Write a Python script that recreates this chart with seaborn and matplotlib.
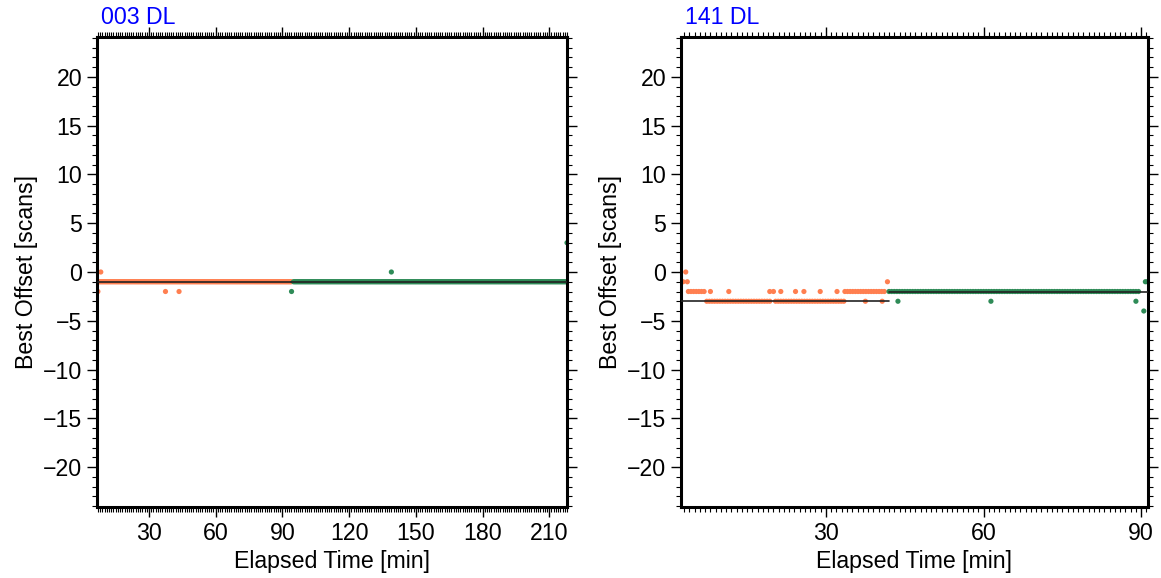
import numpy as np
import pandas as pd
import seaborn as sns
import matplotlib.pyplot as plt
from matplotlib.ticker import MultipleLocator

# runs of constant offset: (start min, end min, offset), one scan per minute
runs_003_first = [(7, 94, -1)]
runs_003_second = [(95, 218, -1)]
pts_003_first = [(8.3, 0), (7.0, -2), (37.4, -2), (43.5, -2)]
pts_003_second = [(94.1, -2), (139.0, 0), (218.0, 3)]
level_003 = [(7, 94, -1), (94, 218, -1)]

runs_141_first = [(3.8, 7.0, -2), (7.3, 19.6, -3), (20.4, 33.5, -3), (33.6, 41.3, -2)]
runs_141_second = [(42.0, 89.8, -2)]
pts_141_first = [(3.3, 0), (2.8, -1), (3.6, -1), (8.0, -2), (11.5, -2), (19.3, -2),
                 (20.0, -2), (21.4, -2), (24.2, -2), (25.8, -2), (28.9, -2),
                 (32.1, -2), (37.5, -3), (40.7, -3), (41.7, -1)]
pts_141_second = [(43.7, -3), (61.4, -3), (89.0, -3), (90.5, -4), (90.8, -1), (91.2, -1)]
level_141 = [(2.4, 42.0, -3), (42.0, 91.3, -2)]

panels = [
    ("003 DL", runs_003_first, runs_003_second, pts_003_first, pts_003_second,
     level_003, (6.6, 218), 30),
    ("141 DL", runs_141_first, runs_141_second, pts_141_first, pts_141_second,
     level_141, (2.4, 91.3), 30),
]


def expandir(runs, pts, seg):
    linhas = []
    for a, b, v in runs:
        for t in np.arange(a, b + 0.01, 0.5):
            linhas.append((t, v, seg))
    for t, v in pts:
        linhas.append((t, v, seg))
    return linhas


sns.set_style("white")
plt.rcParams['font.family'] = ['Liberation Sans', 'DejaVu Sans']
plt.rcParams['text.color'] = 'black'
plt.rcParams['axes.labelcolor'] = 'black'
plt.rcParams['xtick.color'] = 'black'
plt.rcParams['ytick.color'] = 'black'

fig = plt.figure(figsize=(11.61, 5.78), dpi=100)
posicoes = [[97 / 1161, 71 / 578, 470 / 1161, 470 / 578],
            [681 / 1161, 71 / 578, 467 / 1161, 470 / 578]]

for pos, (titulo, r1, r2, p1, p2, niveis, xlim, passo) in zip(posicoes, panels):
    ax = fig.add_axes(pos)
    df = pd.DataFrame(expandir(r1, p1, "a") + expandir(r2, p2, "b"),
                      columns=["t", "off", "seg"])
    sns.scatterplot(data=df, x="t", y="off", hue="seg",
                    palette={"a": "coral", "b": "seagreen"},
                    s=14, edgecolor="none", legend=False, ax=ax, zorder=2)
    for a, b, v in niveis:
        sns.lineplot(x=[a, b], y=[v, v], color="#222222", lw=1.2, ax=ax, zorder=3)
    ax.set_xlim(*xlim)
    ax.set_ylim(-24.1, 24.1)
    ax.xaxis.set_major_locator(MultipleLocator(passo))
    ax.xaxis.set_minor_locator(MultipleLocator(1))
    ax.yaxis.set_major_locator(MultipleLocator(5))
    ax.yaxis.set_minor_locator(MultipleLocator(1))
    ax.tick_params(which="both", direction="out", top=True, right=True,
                   bottom=True, left=True, labelsize=16.7, colors="black")
    ax.tick_params(which="major", length=7, width=1)
    ax.tick_params(which="minor", length=3.5, width=0.8)
    for sp in ax.spines.values():
        sp.set_linewidth(2.2)
        sp.set_color("black")
    ax.set_xlabel("Elapsed Time [min]", fontsize=16.7)
    ax.set_ylabel("Best Offset [scans]", fontsize=16.7)
    t = ax.set_title(titulo, loc="left", color="blue", fontsize=16.7, pad=9.5)
    t.set_x(0.008)

fig.savefig("out.png", dpi=100)
